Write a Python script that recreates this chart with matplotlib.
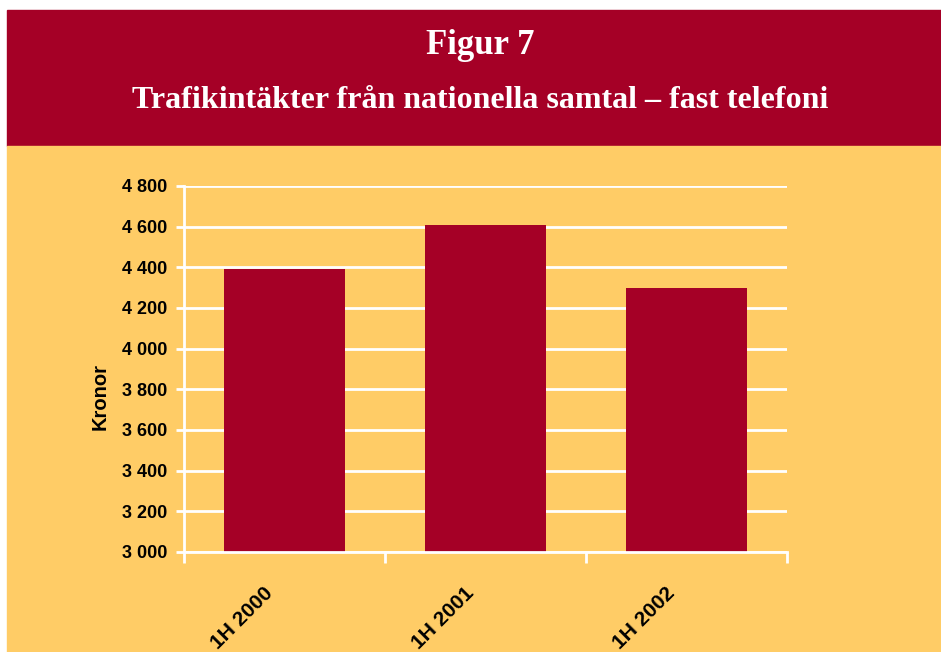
import matplotlib
matplotlib.use("Agg")
import matplotlib.pyplot as plt
from matplotlib.patches import Rectangle
from matplotlib.ticker import FuncFormatter, MultipleLocator
from matplotlib.transforms import ScaledTranslation

# data
periods = ["1H 2000", "1H 2001", "1H 2002"]
revenue = [4390, 4610, 4300]

RED = "#A50026"
YELLOW = "#FFCC66"

fig = plt.figure(figsize=(9.41, 6.52), dpi=100, facecolor="white")

# header band and yellow panel (behind the axes)
fig.patches.append(Rectangle((7 / 941, 1 - 146 / 652), 1, 136 / 652,
                             transform=fig.transFigure, color=RED, zorder=-10))
fig.patches.append(Rectangle((7 / 941, 0), 1, 1 - 146 / 652,
                             transform=fig.transFigure, color=YELLOW, zorder=-10))

fig.text(480 / 941, 1 - 46 / 652, "Figur 7", color="white", fontsize=25,
         fontweight="bold", family="Liberation Serif", ha="center", va="center")
fig.text(480 / 941, 1 - 101 / 652,
         "Trafikintäkter från nationella samtal – fast telefoni",
         color="white", fontsize=23, fontweight="bold",
         family="Liberation Serif", ha="center", va="center")

ax = fig.add_axes([184 / 941, 1 - 552 / 652, (787 - 184) / 941, (552 - 186) / 652])
ax.set_facecolor("none")

x = range(len(periods))
ax.bar(x, revenue, width=0.6, bottom=0, color=RED, zorder=3)

ax.set_xlim(-0.5, len(periods) - 0.5)
ax.set_ylim(3000, 4800)
ax.yaxis.set_major_locator(MultipleLocator(200))
ax.yaxis.set_major_formatter(FuncFormatter(lambda v, p: f"{int(v):,}".replace(",", " ")))

# category boundary ticks on x axis, rotated labels under the bar centres
ax.set_xticks([i - 0.5 for i in range(len(periods) + 1)])
ax.set_xticklabels([])
ax.tick_params(axis="x", length=8, width=2, color="white")
offset = ScaledTranslation(-15.5 / 72, -22.5 / 72, fig.dpi_scale_trans)
for i, p in zip(x, periods):
    ax.text(i, 0, p, transform=ax.get_xaxis_transform() + offset,
            rotation=45, rotation_mode="anchor", ha="right", va="top",
            fontsize=15, fontweight="bold", family="Liberation Sans")

ax.tick_params(axis="y", length=6, width=2, color="white", pad=6)
for lbl in ax.get_yticklabels():
    lbl.set_fontsize(13)
    lbl.set_fontweight("bold")
    lbl.set_family("Liberation Sans")

ax.grid(axis="y", color="white", linewidth=2, zorder=1)
gl = ax.yaxis.get_gridlines()
gl[-1].set_alpha(0.3)
gl[-1].set_linewidth(1.5)

for side in ("top", "right"):
    ax.spines[side].set_visible(False)
for side in ("left", "bottom"):
    ax.spines[side].set_color("white")
    ax.spines[side].set_linewidth(2)
    ax.spines[side].set_zorder(4)

ax.set_ylabel("Kronor", fontsize=14.5, fontweight="bold", family="Liberation Sans")
ax.yaxis.set_label_coords(-0.1227, 0.4235)

fig.savefig("out.png", dpi=100, facecolor=fig.get_facecolor())
